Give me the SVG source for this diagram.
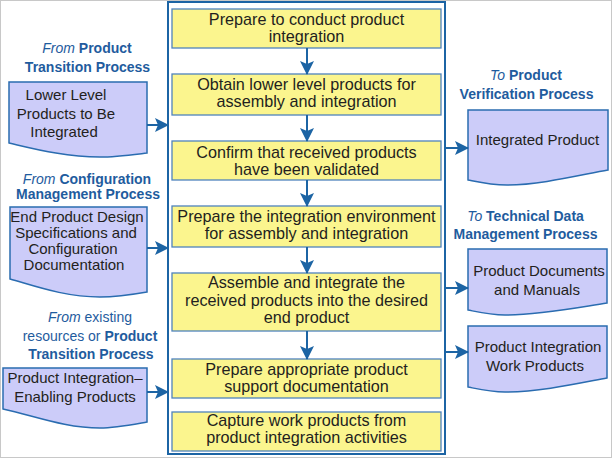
<svg xmlns="http://www.w3.org/2000/svg" width="612" height="458" viewBox="0 0 612 458">
<style>
text{font-family:"Liberation Sans",Arial,sans-serif;}
.step{fill:#fbf58e;stroke:#4f83bd;stroke-width:1.3;}
.st{font-size:16.2px;fill:#231f20;text-anchor:middle;}
.doc{fill:#ccccf9;stroke:#2a6cb0;stroke-width:1.5;}
.dt{font-size:15px;fill:#231f20;text-anchor:middle;}
.hd{font-size:14px;font-weight:bold;fill:#1f5c9e;text-anchor:middle;}
.it{font-style:italic;font-weight:normal;}
.nb{font-weight:normal;}
.con{stroke:#1c64a4;stroke-width:2;fill:none;marker-end:url(#ah);}
</style>
<defs>
<marker id="ah" viewBox="0 0 14 14" refX="13" refY="7" markerWidth="14" markerHeight="14" markerUnits="userSpaceOnUse" orient="auto">
<path d="M0,0 L14,7 L0,14 L3,7 z" fill="#1c64a4"/>
</marker>
</defs>
<rect x="0.5" y="0.5" width="611" height="457" fill="#ffffff" stroke="#c8c8c8" stroke-width="1"/>

<g id="process">
<rect x="168" y="2" width="277" height="452" fill="none" stroke="#1c64a4" stroke-width="2"/>
</g>

<g id="s1"><rect class="step" x="172" y="9" width="269" height="39"/>
<text class="st" x="306.5" y="25">Prepare to conduct product</text>
<text class="st" x="306.5" y="42">integration</text></g>

<g id="s2"><rect class="step" x="172" y="74" width="269" height="41"/>
<text class="st" x="306.5" y="90">Obtain lower level products for</text>
<text class="st" x="306.5" y="107">assembly and integration</text></g>

<g id="s3"><rect class="step" x="172" y="141" width="269" height="39"/>
<text class="st" x="306.5" y="157.5">Confirm that received products</text>
<text class="st" x="306.5" y="174.5">have been validated</text></g>

<g id="s4"><rect class="step" x="172" y="206" width="269" height="41"/>
<text class="st" x="306.5" y="222">Prepare the integration environment</text>
<text class="st" x="306.5" y="239">for assembly and integration</text></g>

<g id="s5"><rect class="step" x="172" y="273" width="269" height="58"/>
<text class="st" x="306.5" y="288">Assemble and integrate the</text>
<text class="st" x="306.5" y="305.5">received products into the desired</text>
<text class="st" x="306.5" y="323">end product</text></g>

<g id="s6"><rect class="step" x="172" y="359" width="269" height="39"/>
<text class="st" x="306.5" y="374.5">Prepare appropriate product</text>
<text class="st" x="306.5" y="391.5">support documentation</text></g>

<g id="s7"><rect class="step" x="172" y="412" width="269" height="39"/>
<text class="st" x="306.5" y="426">Capture work products from</text>
<text class="st" x="306.5" y="443">product integration activities</text></g>

<g id="in1">
<text class="hd" x="87" y="53"><tspan class="it">From</tspan> Product</text>
<text class="hd" x="87.5" y="72">Transition Process</text>
<path class="doc" d="M9,82 H147 V153 C130,155 115,157 100,157 C65,157 35,149 9,143 Z"/>
<text class="dt" x="66" y="100">Lower Level</text>
<text class="dt" x="66" y="118.5">Products to Be</text>
<text class="dt" x="64" y="137">Integrated</text>
</g>

<g id="in2">
<text class="hd" x="87" y="184"><tspan class="it">From</tspan> Configuration</text>
<text class="hd" x="88" y="199">Management Process</text>
<path class="doc" d="M10,207 H147 V292 C130,295 115,297 100,297 C65,297 35,286 10,279 Z"/>
<text class="dt" x="77" y="222">End Product Design</text>
<text class="dt" x="76" y="237.5">Specifications and</text>
<text class="dt" x="73" y="253.5">Configuration</text>
<text class="dt" x="74" y="270">Documentation</text>
</g>

<g id="in3">
<text class="hd" x="90" y="322"><tspan class="it">From</tspan><tspan class="nb"> existing</tspan></text>
<text class="hd" x="90" y="341"><tspan class="nb">resources or </tspan>Product</text>
<text class="hd" x="91" y="359">Transition Process</text>
<path class="doc" d="M3,368 H147 V422 C130,425 115,428 100,428 C65,428 35,416 3,409 Z"/>
<text class="dt" x="75" y="383">Product Integration–</text>
<text class="dt" x="75" y="402">Enabling Products</text>
</g>

<g id="out1">
<text class="hd" x="526" y="80"><tspan class="it">To</tspan> Product</text>
<text class="hd" x="526.5" y="99">Verification Process</text>
<path class="doc" d="M468,110 H608 V170 C580,175 540,185 507,185 C490,185 478,182 468,180 Z"/>
<text class="dt" x="537.5" y="145">Integrated Product</text>
</g>

<g id="out2">
<text class="hd" x="525.5" y="220.5"><tspan class="it">To</tspan> Technical Data</text>
<text class="hd" x="525.5" y="239">Management Process</text>
<path class="doc" d="M468,249 H607 V303 C580,307 540,315 505,315 C490,315 478,312 468,310 Z"/>
<text class="dt" x="539" y="276">Product Documents</text>
<text class="dt" x="537" y="295">and Manuals</text>
</g>

<g id="out3">
<path class="doc" d="M468,326 H607 V378 C580,383 540,392 505,392 C490,392 478,389 468,387 Z"/>
<text class="dt" x="538" y="352">Product Integration</text>
<text class="dt" x="535" y="371">Work Products</text>
</g>

<g id="connectors">
<line class="con" x1="307" y1="48" x2="307" y2="74"/>
<line class="con" x1="307" y1="115" x2="307" y2="141"/>
<line class="con" x1="307" y1="180" x2="307" y2="206"/>
<line class="con" x1="307" y1="247" x2="307" y2="273"/>
<line class="con" x1="307" y1="331" x2="307" y2="359"/>
<line class="con" x1="147" y1="125" x2="168" y2="125"/>
<line class="con" x1="147" y1="248" x2="168" y2="248"/>
<line class="con" x1="147" y1="392" x2="168" y2="392"/>
<line class="con" x1="445" y1="148" x2="468" y2="148"/>
<line class="con" x1="445" y1="288" x2="468" y2="288"/>
<line class="con" x1="445" y1="352" x2="468" y2="352"/>
</g>
</svg>
